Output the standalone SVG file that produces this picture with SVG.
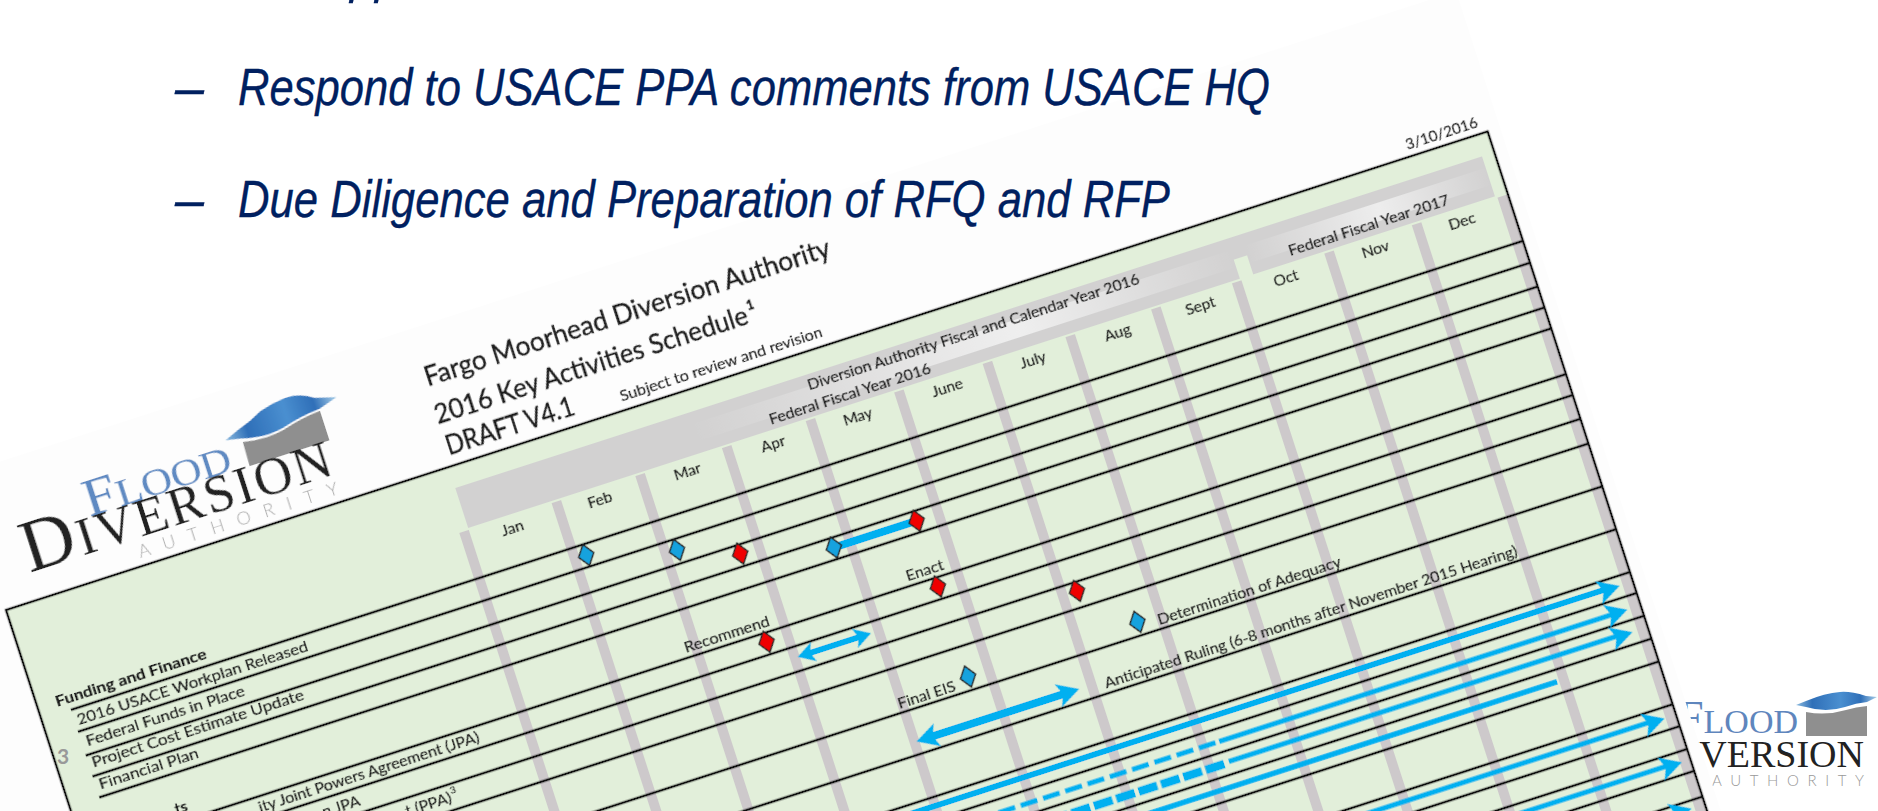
<svg xmlns="http://www.w3.org/2000/svg" width="1878" height="811" viewBox="0 0 1878 811">
<style>
.lbl{font-family:Lato,"Liberation Sans",sans-serif;fill:#161616;stroke:#161616;stroke-width:.22px;font-size:15.5px}
.b{font-weight:700}
.h{font-family:"Liberation Sans",Arial,sans-serif;font-style:italic;fill:#002060;stroke:#002060;stroke-width:.35px;font-size:52px}
.t{font-family:Lato,"Liberation Sans",sans-serif;fill:#1c1c1c;stroke:#1c1c1c;stroke-width:.45px;font-size:27px}
.rule{stroke:#111;stroke-width:2.4;fill:none}
.bar{fill:#cdc9cb}
.arrow{stroke:#00b0f0;fill:none}
.head{fill:#00b0f0}
.ms{stroke:#222;stroke-width:1.4}
.blue{fill:#17a2de}
.red{fill:#f00000}
.serif{font-family:"Liberation Serif","Times New Roman",serif}
.thin{font-family:Lato,"Liberation Sans",sans-serif;font-weight:300}
</style>
<defs>
<filter id="soft" x="-5%" y="-5%" width="110%" height="110%"><feGaussianBlur stdDeviation="0.7"/></filter>
<linearGradient id="streak" x1="0" y1="0" x2="1" y2="0">
<stop offset="0.3" stop-color="#f0f0f0" stop-opacity="0"/><stop offset="0.72" stop-color="#f0f0f0" stop-opacity="0.95"/><stop offset="1" stop-color="#f0f0f0" stop-opacity="0"/>
</linearGradient>
<linearGradient id="streak2" x1="0" y1="0" x2="1" y2="0">
<stop offset="0" stop-color="#f0f0f0" stop-opacity="0"/><stop offset="0.55" stop-color="#f0f0f0" stop-opacity="0.9"/><stop offset="1" stop-color="#f0f0f0" stop-opacity="0"/>
</linearGradient>
<linearGradient id="swoosh" x1="0" y1="0.5" x2="1" y2="0.5">
<stop offset="0" stop-color="#8cbbe0"/><stop offset="0.2" stop-color="#2f6fb8"/><stop offset="0.55" stop-color="#4a8fd0"/><stop offset="0.8" stop-color="#2f6fb8"/><stop offset="1" stop-color="#a9cfe9"/>
</linearGradient>
<polygon id="dia" points="0,-11 8,0 0,11 -8,0"/>
</defs>
<rect width="1878" height="811" fill="#fff"/>

<g id="slide-logo">
<path d="M1806 712 Q1826 716 1846 710 Q1856 707 1867 706 V736 H1806 Z" fill="#8f8f8f"/>
<path d="M1796 705 L1806 707 Q1826 713 1845 707 Q1856 703 1867 702 L1877 697 L1866 696 Q1850 691 1840 692 Q1825 693 1806 701 Z" fill="url(#swoosh)"/>
<text class="serif" x="1798" y="733" text-anchor="end" font-size="34" fill="#5f86bd"><tspan font-size="46">F</tspan>LOOD</text>
<text class="serif" x="1864" y="767" text-anchor="end" font-size="38" fill="#222"><tspan font-size="52">D</tspan>IVERSION</text>
<text class="thin" x="1712" y="786" font-size="15" fill="#999" textLength="152">AUTHORITY</text>
</g>

<g id="chart" transform="translate(6 610) rotate(-17.9)" filter="url(#soft)">
<rect id="paper" x="-70" y="-143" width="1640" height="1100" fill="#fdfdfd"/>
<rect id="sheet" x="0" y="0" width="1557" height="1000" fill="#e2efda"/>
<g id="header-band">
<rect x="465" y="22" width="1079" height="22" fill="#d2d1d1"/>
<rect x="465" y="44" width="811" height="20" fill="#d2d1d1"/>
<rect x="1290" y="44" width="254" height="20" fill="#d2d1d1"/>
<rect x="465" y="34" width="811" height="18" fill="url(#streak)"/>
<rect x="1290" y="34" width="254" height="18" fill="url(#streak2)"/>
</g>
<g id="columns">
<rect class="bar" x="455" y="66" width="10" height="940"/>
<rect class="bar" x="552" y="66" width="10" height="940"/>
<rect class="bar" x="640" y="66" width="10" height="940"/>
<rect class="bar" x="731" y="66" width="10" height="940"/>
<rect class="bar" x="819" y="66" width="10" height="940"/>
<rect class="bar" x="912" y="66" width="10" height="940"/>
<rect class="bar" x="1005" y="66" width="10" height="940"/>
<rect class="bar" x="1092" y="66" width="10" height="940"/>
<rect class="bar" x="1182" y="66" width="10" height="940"/>
<rect class="bar" x="1267" y="66" width="10" height="940"/>
<rect class="bar" x="1364" y="66" width="10" height="940"/>
<rect class="bar" x="1456" y="66" width="10" height="940"/>
<rect class="bar" x="1546" y="66" width="11" height="940"/>
</g>
<g id="connectors">
<path class="rule" d="M31 115H1557M31 138H1557M31 163H1557M31 185H1557M31 207H1557M31 255H1557M31 277H1557M31 302H1557M31 328H1557M31 373H1557M31 418H1557M31 463H1557M31 485H1557M31 509H1557M31 533H1557M31 557H1557M31 602H1557M31 625H1557M31 649H1557M31 672H1557M31 699H1557"/>
<path class="arrow" stroke-width="8" d="M807 195H893"/>
<path class="arrow" stroke-width="6" d="M750 288H806"/>
<path class="head" d="M739 288L756 278L752 288L756 298ZM816 288L799 278L803 288L799 298Z"/>
<path class="arrow" stroke-width="8" d="M838 405H985"/>
<path class="head" d="M826 405L848 393L843 405L848 417ZM997 405L975 393L980 405L975 417Z"/>
<path class="arrow" stroke-width="6" d="M760 472H1530"/>
<path class="head" d="M1543 473L1521 461L1526 473L1521 485Z"/>
<path class="arrow" stroke-width="5" stroke-dasharray="17.5 5.9" d="M765.1 498H1110.2"/>
<path class="arrow" stroke-width="5" d="M1114 498H1530"/>
<path class="head" d="M1543 498L1521 486L1526 498L1521 510Z"/>
<path class="arrow" stroke-width="8.5" stroke-dasharray="19.5 4" d="M787 521H1112"/>
<path class="arrow" stroke-width="5" d="M1117 520H1528"/>
<path class="head" d="M1541 521L1519 509L1524 521L1519 533Z"/>
<path class="arrow" stroke-width="5.5" d="M1000 545H1454"/>
<path class="arrow" stroke-width="5" d="M1200 612H1532"/>
<path class="head" d="M1545 613L1523 601L1528 613L1523 625Z"/>
<path class="arrow" stroke-width="5" d="M1350 659H1534"/>
<path class="head" d="M1548 660L1526 648L1531 660L1526 672Z"/>
<path class="arrow" stroke-width="5" d="M1450 706H1530"/>
<path class="head" d="M1543 707L1521 695L1526 707L1521 719Z"/>
</g>
<rect x="0" y="0" width="1557" height="1000" fill="none" stroke="#111" stroke-width="2.4"/>
<g id="milestones">
<use href="#dia" class="blue ms" x="569" y="126"/>
<use href="#dia" class="blue ms" x="657" y="149"/>
<use href="#dia" class="red ms" x="716" y="172"/>
<use href="#dia" class="blue ms" x="807" y="195"/>
<use href="#dia" class="red ms" x="894" y="195"/>
<use href="#dia" class="red ms" x="894" y="264"/>
<use href="#dia" class="red ms" x="714" y="264"/>
<use href="#dia" class="red ms" x="1025" y="311"/>
<use href="#dia" class="blue ms" x="1073" y="359"/>
<use href="#dia" class="blue ms" x="895" y="359"/>
</g>
<g id="logo-rotated">
<path d="M277 -87 Q300 -82 319 -86 Q340 -92 360 -93 V-62 H276 Z" fill="#8f8f8f"/>
<path d="M261 -94 L276 -91 Q300 -84 319 -88 Q340 -94 360 -95 L380 -101 L359 -107 Q345 -117 330 -116 Q316 -115 303 -111 Q290 -104 276 -100 Z" fill="url(#swoosh)"/>
<text class="serif" x="108" y="-63" font-size="38" fill="#5f8ac2" textLength="152" lengthAdjust="spacingAndGlyphs"><tspan font-size="52">F</tspan>LOOD</text>
<text class="serif" x="34" y="-28" font-size="53" fill="#222" textLength="321"><tspan font-size="74">D</tspan>IVERSION</text>
<text class="thin" x="144" y="-8" font-size="18" fill="#a8a8a8" textLength="209">AUTHORITY</text>
</g>
<g id="titles">
<text class="t" x="470" y="-83" textLength="425" lengthAdjust="spacingAndGlyphs">Fargo Moorhead Diversion Authority</text>
<text class="t" x="468" y="-44" textLength="328" lengthAdjust="spacingAndGlyphs">2016 Key Activities Schedule</text>
<text class="t b" x="798" y="-57" style="font-size:13px">1</text>
<text class="t" x="469" y="-11" textLength="134" lengthAdjust="spacingAndGlyphs">DRAFT V4.1</text>
<text class="lbl" x="650" y="-9" textLength="212" lengthAdjust="spacingAndGlyphs">Subject to review and revision</text>
<text class="lbl" x="1475" y="-7" textLength="75" lengthAdjust="spacingAndGlyphs">3/10/2016</text>
<text class="lbl" x="832" y="38" textLength="348" lengthAdjust="spacingAndGlyphs">Diversion Authority Fiscal and Calendar Year 2016</text>
<text class="lbl" x="785" y="59" textLength="169" lengthAdjust="spacingAndGlyphs">Federal Fiscal Year 2016</text>
<text class="lbl" x="1331" y="58" textLength="168" lengthAdjust="spacingAndGlyphs">Federal Fiscal Year 2017</text>
</g>
<g id="months" text-anchor="middle">
<text class="lbl" x="507" y="83">Jan</text>
<text class="lbl" x="599" y="83">Feb</text>
<text class="lbl" x="691" y="83">Mar</text>
<text class="lbl" x="781" y="83">Apr</text>
<text class="lbl" x="870" y="83">May</text>
<text class="lbl" x="964" y="83">June</text>
<text class="lbl" x="1054" y="83">July</text>
<text class="lbl" x="1143" y="83">Aug</text>
<text class="lbl" x="1230" y="83">Sept</text>
<text class="lbl" x="1320" y="83">Oct</text>
<text class="lbl" x="1414" y="83">Nov</text>
<text class="lbl" x="1505" y="83">Dec</text>
</g>
<g id="row-labels">
<text class="lbl b" x="19" y="108" textLength="158" lengthAdjust="spacingAndGlyphs">Funding and Finance</text>
<text class="lbl" x="34" y="132" textLength="242" lengthAdjust="spacingAndGlyphs">2016 USACE Workplan Released</text>
<text class="lbl" x="36" y="155" textLength="166" lengthAdjust="spacingAndGlyphs">Federal Funds in Place</text>
<text class="lbl" x="35" y="177" textLength="222" lengthAdjust="spacingAndGlyphs">Project Cost Estimate Update</text>
<text class="lbl" x="35" y="200" textLength="104" lengthAdjust="spacingAndGlyphs">Financial Plan</text>
<text class="lbl b" x="112" y="247" text-anchor="end">ts</text>
<text class="lbl" x="411" y="271" text-anchor="end" style="font-size:16px">ity Joint Powers Agreement (JPA)</text>
<text class="lbl" x="278" y="295" text-anchor="end" style="font-size:16px">n JPA</text>
<text class="lbl" x="366" y="320" text-anchor="end" style="font-size:16px">t (PPA)</text>
<text class="lbl" x="367" y="312" style="font-size:10px">3</text>
<text class="lbl" x="634" y="250" textLength="89" lengthAdjust="spacingAndGlyphs">Recommend</text>
<text class="lbl" x="867" y="250" textLength="39" lengthAdjust="spacingAndGlyphs">Enact</text>
<text class="lbl" x="820" y="369" textLength="60" lengthAdjust="spacingAndGlyphs">Final EIS</text>
<text class="lbl" x="1093" y="369" textLength="192" lengthAdjust="spacingAndGlyphs">Determination of Adequacy</text>
<text class="lbl" x="1023" y="413" textLength="433" lengthAdjust="spacingAndGlyphs">Anticipated Ruling (6-8 months after November 2015 Hearing)</text>
</g>
</g>
<text id="page-number" x="57" y="764" font-family="Lato,'Liberation Sans',sans-serif" font-weight="700" font-size="21" fill="#999">3</text>
<g id="bullets">
<text class="h" x="350" y="-8" textLength="50" lengthAdjust="spacingAndGlyphs">pp</text>
<text class="h" x="175" y="105">–</text>
<text class="h" x="238" y="105" textLength="1032" lengthAdjust="spacingAndGlyphs">Respond to USACE PPA comments from USACE HQ</text>
<text class="h" x="175" y="217">–</text>
<text class="h" x="238" y="217" textLength="932" lengthAdjust="spacingAndGlyphs">Due Diligence and Preparation of RFQ and RFP</text>
</g>
</svg>
